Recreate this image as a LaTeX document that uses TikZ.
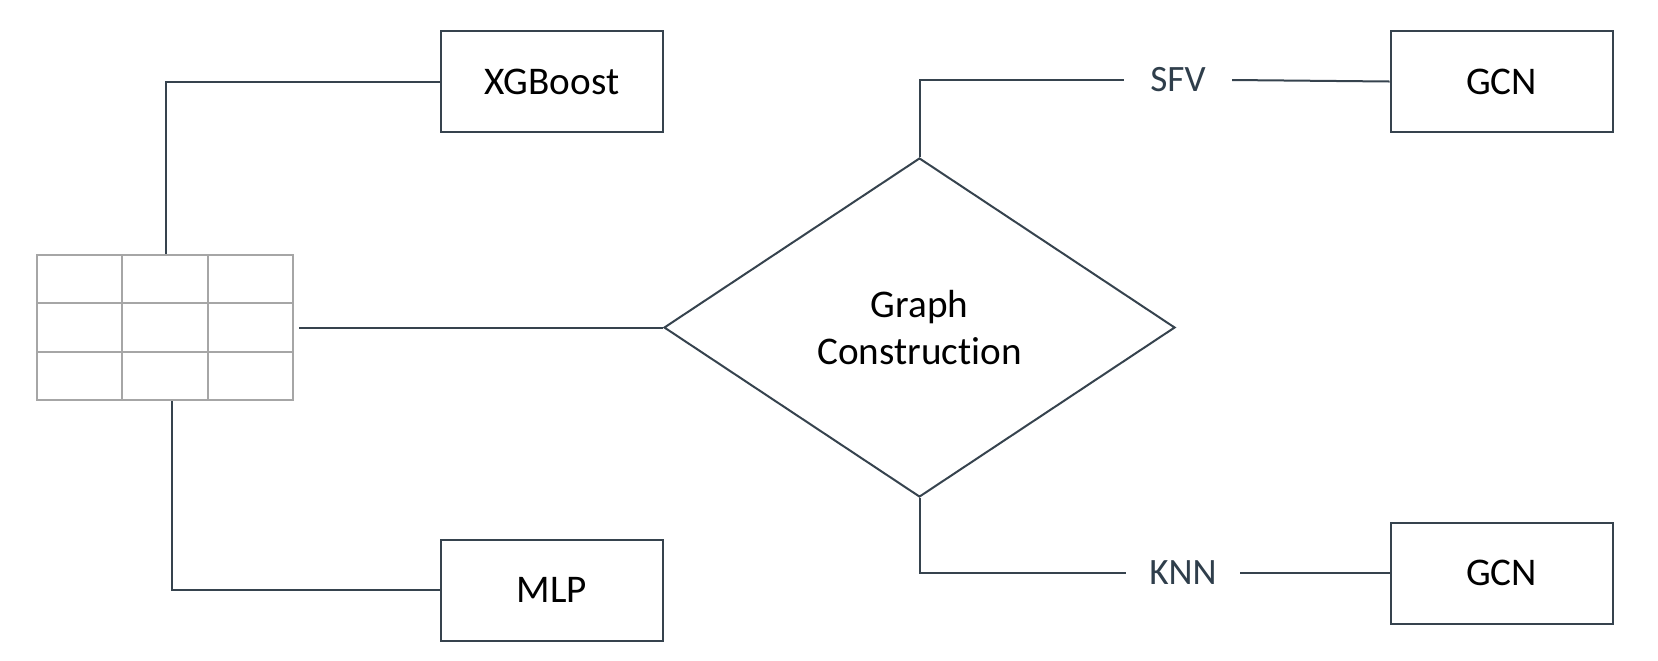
\documentclass[tikz,border=0pt]{standalone}
\usepackage{fontspec}
\setmainfont{Carlito}[RawFeature={-liga;-clig;-dlig;-hlig}]
\usetikzlibrary{shapes.geometric}
\definecolor{linecol}{HTML}{36434E}
\definecolor{labelcol}{HTML}{2F3E4B}
\definecolor{gridcol}{HTML}{A6A6A6}
\tikzset{
    model/.style={draw=linecol, line width=1pt, minimum width=111pt, minimum height=50.5pt, inner sep=0pt},
    conn/.style={draw=linecol, line width=1pt},
    edgelabel/.style={text=labelcol, inner xsep=13pt, inner ysep=0pt, font=\fontsize{18.6}{22}\selectfont}
}
\begin{document}
\begin{tikzpicture}[x=0.5pt, y=-0.5pt, font=\fontsize{19.6}{23.5}\selectfont]
    \useasboundingbox (0,0) rectangle (1658,660);
    % table
    \node[draw=gridcol, line width=1.1pt, minimum width=128pt, minimum height=72.5pt, inner sep=0pt] (tbl) at (165,327.5) {};
    \draw[gridcol, line width=1.1pt] (122,255) -- (122,400);
    \draw[gridcol, line width=1.1pt] (208,255) -- (208,400);
    \draw[gridcol, line width=1.1pt] (37,303) -- (293,303);
    \draw[gridcol, line width=1.1pt] (37,352) -- (293,352);
    % models
    \node[model] (xgb) at (552,81.5) {XGBoost};
    \node[model] (mlp) at (552,590) {MLP};
    \node[model] (gcntop) at (1501.5,81.5) {GCN};
    \node[model] (gcnbot) at (1501.5,573) {GCN};
    \node[draw=linecol, line width=1pt, shape=diamond, aspect=1.5, minimum width=255.5pt, minimum height=169.5pt, inner sep=0pt, align=center] (graph) at (919.5,327.5) {Graph\\Construction};
    \node[edgelabel] (sfv) at (1178,80) {SFV};
    \node[edgelabel, inner xsep=11.5pt] (knn) at (1183,573) {KNN};
    % connectors
    \draw[conn] ([xshift=0.5pt]tbl.north) |- (xgb.west);
    \draw[conn] ([xshift=3.5pt]tbl.south) |- (mlp.west);
    \draw[conn] ([xshift=2.5pt]tbl.east) -- (graph.west);
    \draw[conn] (graph.north) |- (sfv.west);
    \draw[conn] (sfv.east) -- (gcntop.west);
    \draw[conn] (graph.south) |- (knn.west);
    \draw[conn] (knn.east) -- (gcnbot.west);
\end{tikzpicture}
\end{document}
